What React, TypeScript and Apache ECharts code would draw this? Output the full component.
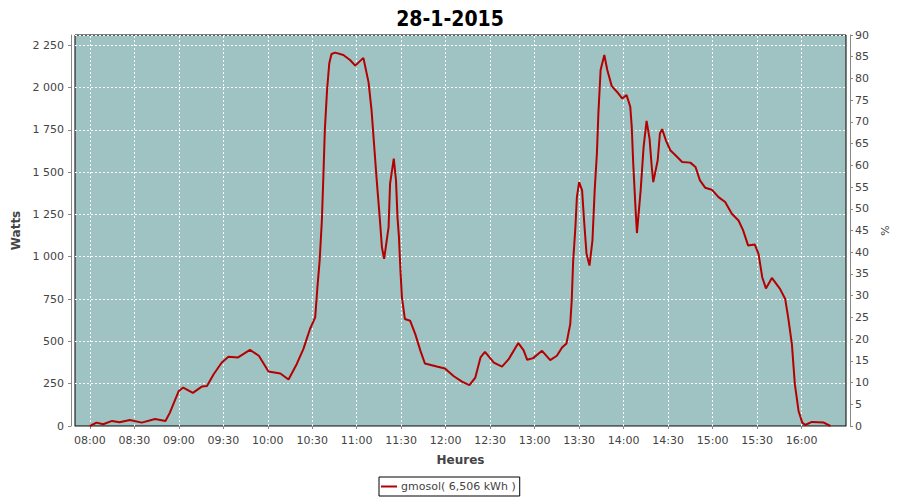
import React, { useEffect, useRef } from "react";
import * as echarts from "echarts";

const TITLE = "28-1-2015";
const SERIES_NAME = "gmosol( 6,506 kWh )";
const X_NAME = "Heures";
const Y_NAME = "Watts";
const Y2_NAME = "%";

// minutes since midnight
const TIMES = [
  480, 484.5, 489, 495, 500, 507, 515, 524, 531, 534, 540, 543, 549.5, 555.5, 559, 563.5, 569, 573.5, 580, 588,
  594, 600.5, 608.5, 614, 619.5, 624, 628.5, 632, 633.5, 635, 636.5, 637.5, 638.5, 640, 641.5, 643, 645.5, 651,
  655.5, 659, 664.5, 668, 670, 672, 673.5, 675.5, 677, 678.5, 681.5, 682.5, 685, 686.5, 687.5, 688.5, 689.5, 690.5,
  692.5, 696, 699.5, 703, 706, 714, 719.5, 725.5, 731, 736, 740, 743.5, 746.5, 752.5, 758, 762.5, 769, 772.5, 775,
  779, 785, 790.5, 795, 798.5, 801.5, 804, 805, 806, 807.5, 808.5, 810, 812, 813.5, 815, 817, 819, 820.5, 822, 823,
  824.5, 827, 829, 832, 835.5, 839, 842, 844.5, 845.5, 846.5, 848, 849, 851.5, 853.5, 855.5, 857.5, 859, 860, 863,
  864.5, 866, 868.5, 871.5, 875, 879.5, 885, 888.5, 891.5, 895, 899.5, 904, 908.5, 913, 917.5, 920.5, 924, 928.5,
  931, 933.5, 936, 940, 945.5, 949, 951, 953.5, 955.5, 958, 960.5, 962.5, 967, 975, 979.5,
];

const WATTS = [
  0, 20, 10, 30, 22, 35, 20, 41, 30, 79, 207, 227, 196, 233, 237, 306, 375, 409, 405, 450,
  415, 322, 310, 275, 365, 454, 573, 642, 820, 977, 1214, 1471, 1748, 1985, 2143, 2198, 2206, 2192,
  2162, 2129, 2175, 2030, 1866, 1629, 1451, 1234, 1056, 987, 1175, 1432, 1580, 1451, 1234, 1115, 918, 760,
  632, 622, 543, 444, 369, 351, 340, 294, 262, 241, 286, 405, 438, 375, 351, 395, 490, 448, 391,
  401, 444, 389, 415, 464, 488, 602, 740, 977, 1175, 1352, 1441, 1392, 1195, 1017, 948, 1096, 1392, 1610, 1847,
  2103, 2192, 2103, 2008, 1975, 1935, 1955, 1886, 1767, 1550, 1293, 1140, 1392, 1649, 1803, 1698, 1530, 1441, 1570,
  1728, 1754, 1688, 1629, 1600, 1560, 1556, 1530, 1451, 1408, 1396, 1352, 1323, 1254, 1214, 1159, 1066, 1072,
  1017, 879, 813, 875, 810, 750, 642, 484, 247, 89, 20, 6, 24, 20, 0,
];

const X_TICKS = [480, 510, 540, 570, 600, 630, 660, 690, 720, 750, 780, 810, 840, 870, 900, 930, 960];
const X_MIN = 470;
const X_MAX = 990;
const Y_MAX = 2310;
const Y_STEP = 250;
const Y2_MAX = 90;
const Y2_STEP = 5;

const FONT = "'DejaVu Sans', Verdana, sans-serif";
const LABEL_COLOR = "#444444";
const AXIS_COLOR = "#888888";
const GRID_LINE = { color: "#ffffff", type: [2, 2] as number[], width: 1 };

function fmtTime(v: number): string {
  const h = Math.floor(v / 60);
  const m = Math.round(v % 60);
  return String(h).padStart(2, "0") + ":" + String(m).padStart(2, "0");
}

function fmtWatts(v: number): string {
  if (v % Y_STEP !== 0) return "";
  return String(v).replace(/\B(?=(\d{3})+(?!\d))/g, " ");
}

export default function App() {
  const ref = useRef<HTMLDivElement>(null);

  useEffect(() => {
    document.body.style.margin = "0";
    if (!ref.current) return;
    const chart = echarts.init(ref.current, undefined, { renderer: "svg" });
    const data = TIMES.map((t, i) => [t, WATTS[i]]);
    chart.setOption({
      animation: false,
      backgroundColor: "#ffffff",
      title: {
        text: TITLE,
        left: "center",
        top: 3,
        textStyle: {
          fontFamily: "'DejaVu Sans Condensed', 'DejaVu Sans', sans-serif",
          fontWeight: "bold",
          fontSize: 21,
          color: "#000000",
        },
      },
      legend: {
        data: [{ name: SERIES_NAME }],
        left: 379,
        top: 477,
        icon: "rect",
        itemWidth: 16,
        itemHeight: 2,
        itemGap: 4,
        padding: [4, 4, 4, 2],
        borderColor: "#000000",
        borderWidth: 1,
        backgroundColor: "#ffffff",
        textStyle: { fontFamily: FONT, fontSize: 11, color: LABEL_COLOR, padding: [0, 0, 0, -1] },
      },
      grid: {
        left: 75,
        right: 54,
        top: 35,
        bottom: 74,
        show: true,
        backgroundColor: "#9EC3C2",
        borderColor: "#000000",
        borderWidth: 1,
      },
      xAxis: {
        type: "value",
        min: X_MIN,
        max: X_MAX,
        interval: 10,
        offset: 4,
        name: X_NAME,
        nameLocation: "middle",
        nameGap: 24,
        nameTextStyle: { fontFamily: FONT, fontSize: 12, fontWeight: "bold", color: LABEL_COLOR },
        axisLine: { show: true, lineStyle: { color: AXIS_COLOR, width: 1 } },
        axisTick: { show: true, length: 3, customValues: X_TICKS, lineStyle: { color: AXIS_COLOR } },
        axisLabel: {
          customValues: X_TICKS,
          formatter: (v: number) => fmtTime(v),
          fontFamily: FONT,
          fontSize: 11,
          color: LABEL_COLOR,
          margin: 5,
        },
        splitLine: { show: false },
      },
      yAxis: [
        {
          type: "value",
          position: "left",
          min: 0,
          max: Y_MAX,
          interval: Y_STEP,
          offset: 4,
          name: Y_NAME,
          nameLocation: "middle",
          nameGap: 40,
          nameTextStyle: { fontFamily: FONT, fontSize: 12, fontWeight: "bold", color: LABEL_COLOR },
          axisLine: { show: true, lineStyle: { color: AXIS_COLOR, width: 1 } },
          axisTick: { show: true, length: 3, lineStyle: { color: AXIS_COLOR } },
          axisLabel: {
            formatter: (v: number) => fmtWatts(v),
            fontFamily: FONT,
            fontSize: 11,
            color: LABEL_COLOR,
            margin: 7,
            showMaxLabel: false,
          },
          splitLine: { show: true, lineStyle: GRID_LINE },
        },
        {
          type: "value",
          position: "right",
          min: 0,
          max: Y2_MAX,
          interval: Y2_STEP,
          offset: 4,
          name: Y2_NAME,
          nameLocation: "middle",
          nameGap: 26,
          nameTextStyle: { fontFamily: FONT, fontSize: 11, color: LABEL_COLOR },
          axisLine: { show: true, lineStyle: { color: AXIS_COLOR, width: 1 } },
          axisTick: { show: true, length: 3, lineStyle: { color: AXIS_COLOR } },
          axisLabel: { fontFamily: FONT, fontSize: 11, color: LABEL_COLOR, margin: 5 },
          splitLine: { show: false },
        },
      ],
      series: [
        {
          name: "__grid",
          type: "line",
          yAxisIndex: 0,
          data: [],
          z: 1,
          silent: true,
          markLine: {
            z: 1,
            silent: true,
            symbol: "none",
            animation: false,
            label: { show: false },
            emphasis: { disabled: true },
            lineStyle: GRID_LINE,
            data: X_TICKS.map((v) => ({ xAxis: v })),
          },
        },
        {
          name: SERIES_NAME,
          type: "line",
          yAxisIndex: 0,
          z: 3,
          data,
          showSymbol: false,
          symbol: "none",
          lineStyle: { color: "#B40000", width: 2 },
          itemStyle: { color: "#B40000" },
        },
      ],
    });
    return () => chart.dispose();
  }, []);

  return <div ref={ref} style={{ width: 900, height: 500 }} />;
}
